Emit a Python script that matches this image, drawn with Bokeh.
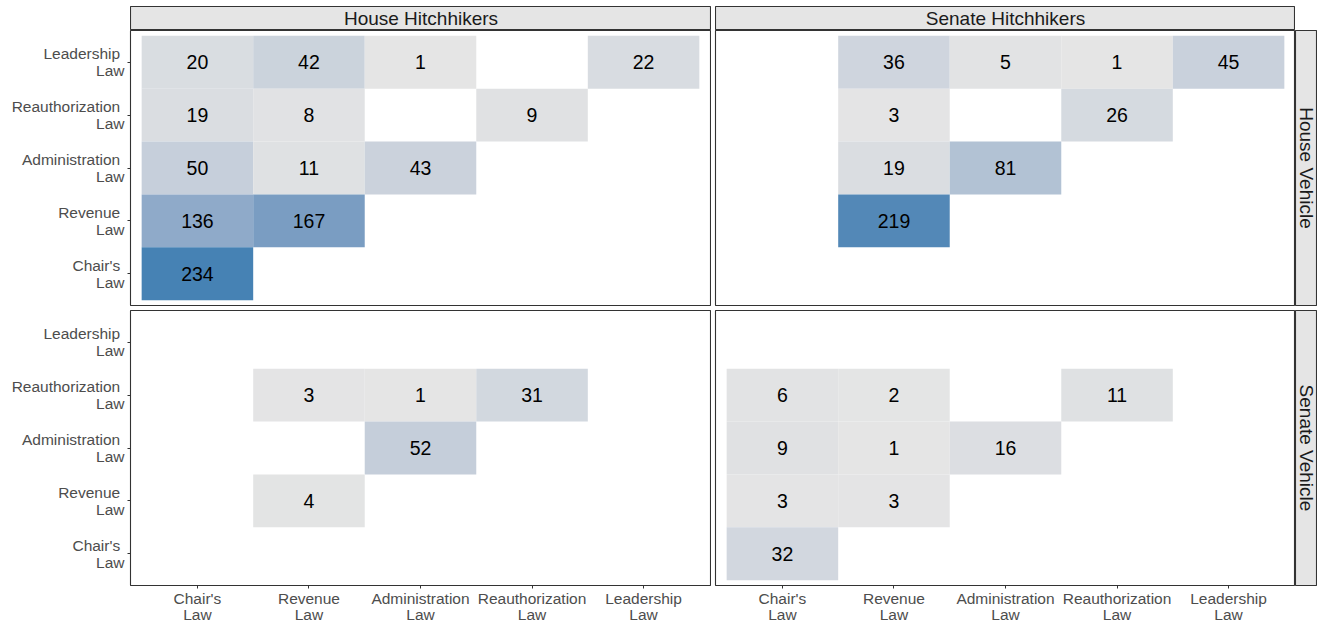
import math
import numpy as np
from bokeh.plotting import figure
from bokeh.layouts import row, column
from bokeh.models import (FactorRange, Range1d, Label, Spacer,
                          ColumnDataSource, CategoricalAxis)
from bokeh.core.properties import value
from bokeh.embed import file_html
from bokeh.resources import INLINE

# ---- categories -----------------------------------------------------------
laws = ["Chair's", "Revenue", "Administration", "Reauthorization", "Leadership"]
hitch_chambers = ["House Hitchhikers", "Senate Hitchhikers"]
vehicle_chambers = ["House Vehicle", "Senate Vehicle"]

# two-line tick labels; the row names get no-break spaces so that the
# centred second line ends flush with the first one
NB = "\u00a0"
col_labels = {k: f"{k}\nLaw" for k in laws}
row_pad = {"Chair's": 5, "Revenue": 9, "Administration": 17,
           "Reauthorization": 20, "Leadership": 12}
row_labels = {k: f"{k} \n{NB * row_pad[k]}Law" for k in laws}

# ---- counts per panel (hitchhiker law on x, vehicle law on y) -------------
hh_house_hitch = ["Chair's", "Revenue", "Administration", "Leadership",
                  "Chair's", "Revenue", "Reauthorization",
                  "Chair's", "Revenue", "Administration",
                  "Chair's", "Revenue",
                  "Chair's"]
hh_house_vehicle = ["Leadership"] * 4 + ["Reauthorization"] * 3 + \
                   ["Administration"] * 3 + ["Revenue"] * 2 + ["Chair's"]
hh_house_n = [20, 42, 1, 22, 19, 8, 9, 50, 11, 43, 136, 167, 234]

hs_senate_hitch = ["Revenue", "Administration", "Reauthorization", "Leadership",
                   "Revenue", "Reauthorization",
                   "Revenue", "Administration",
                   "Revenue"]
hs_house_vehicle = ["Leadership"] * 4 + ["Reauthorization"] * 2 + \
                   ["Administration"] * 2 + ["Revenue"]
hs_n = [36, 5, 1, 45, 3, 26, 19, 81, 219]

sh_house_hitch = ["Revenue", "Administration", "Reauthorization",
                  "Administration",
                  "Revenue"]
sh_senate_vehicle = ["Reauthorization"] * 3 + ["Administration"] + ["Revenue"]
sh_n = [3, 1, 31, 52, 4]

ss_senate_hitch = ["Chair's", "Revenue", "Reauthorization",
                   "Chair's", "Revenue", "Administration",
                   "Chair's", "Revenue",
                   "Chair's"]
ss_senate_vehicle = ["Reauthorization"] * 3 + ["Administration"] * 3 + \
                    ["Revenue"] * 2 + ["Chair's"]
ss_n = [6, 2, 11, 9, 1, 16, 3, 3, 32]

# ---- colour scale: grey90 -> steelblue, interpolated in CIE Lab ----------
LOW, HIGH = "#E5E5E5", "#4682B4"
WHITE = np.array([0.95047, 1.0, 1.08883])
M = np.array([[0.4124564, 0.3575761, 0.1804375],
              [0.2126729, 0.7151522, 0.0721750],
              [0.0193339, 0.1191920, 0.9503041]])


def hex_to_lab(h):
    c = np.array([int(h[i:i + 2], 16) for i in (1, 3, 5)]) / 255.0
    lin = np.where(c <= 0.04045, c / 12.92, ((c + 0.055) / 1.055) ** 2.4)
    xyz = M @ lin / WHITE
    f = np.where(xyz > (6 / 29) ** 3, np.cbrt(xyz), xyz / (3 * (6 / 29) ** 2) + 4 / 29)
    return np.array([116 * f[1] - 16, 500 * (f[0] - f[1]), 200 * (f[1] - f[2])])


def lab_to_hex(lab):
    fy = (lab[0] + 16) / 116
    fx = fy + lab[1] / 500
    fz = fy - lab[2] / 200
    f = np.array([fx, fy, fz])
    xyz = np.where(f > 6 / 29, f ** 3, 3 * (6 / 29) ** 2 * (f - 4 / 29)) * WHITE
    lin = np.linalg.solve(M, xyz)
    c = np.where(lin <= 0.0031308, 12.92 * lin, 1.055 * np.clip(lin, 0, None) ** (1 / 2.4) - 0.055)
    c = np.clip(np.round(c * 255), 0, 255).astype(int)
    return "#%02x%02x%02x" % tuple(c)


all_n = hh_house_n + hs_n + sh_n + ss_n
vmin, vmax = min(all_n), max(all_n)
lab_lo, lab_hi = hex_to_lab(LOW), hex_to_lab(HIGH)


def fill_for(n):
    t = (n - vmin) / (vmax - vmin)
    return lab_to_hex(lab_lo + t * (lab_hi - lab_lo))


# ---- styling ---------------------------------------------------------------
FONT = "Liberation Sans"
BORDER = "#333333"
TICK_TEXT = "#4D4D4D"
FRAME_W, FRAME_H = 580, 275
LEFT_W, GAP, STRIP_R = 130, 3, 22
BOTTOM = 38


def style_axis(ax, standoff):
    ax.axis_line_color = None
    ax.major_tick_line_color = BORDER
    ax.major_tick_out = 3
    ax.major_tick_in = 0
    ax.minor_tick_line_color = None
    ax.major_label_text_font = FONT
    ax.major_label_text_font_size = "15.5px"
    ax.major_label_text_color = TICK_TEXT
    ax.major_label_text_line_height = 0.97
    ax.major_label_standoff = standoff


def panel(xs, ys, ns, left_axis, bottom_axis, border):
    xf = [col_labels[k] for k in laws]
    yf = [row_labels[k] for k in laws]
    p = figure(x_range=FactorRange(*xf, range_padding=0.1, range_padding_units="absolute"),
               y_range=FactorRange(*yf, range_padding=0.1, range_padding_units="absolute"),
               frame_width=FRAME_W, frame_height=FRAME_H,
               x_axis_location=None, y_axis_location=None,
               output_backend="svg", toolbar_location=None, title=None,
               min_border_left=border[0], min_border_right=border[1],
               min_border_top=border[2], min_border_bottom=border[3])
    p.outline_line_color = BORDER
    p.outline_line_width = 1.1
    p.background_fill_color = "white"
    p.border_fill_color = "white"
    p.grid.visible = False
    src = ColumnDataSource(dict(x=[col_labels[k] for k in xs],
                                y=[row_labels[k] for k in ys],
                                n=ns, label=[str(v) for v in ns],
                                fill=[fill_for(v) for v in ns]))
    p.rect(x="x", y="y", width=1, height=1, source=src, fill_color="fill",
           line_color=None)
    p.text(x="x", y="y", text="label", source=src, text_align="center",
           text_baseline="middle", text_font=value(FONT), text_font_size="19.5px",
           text_color="black")
    if left_axis:
        ax = CategoricalAxis()
        style_axis(ax, 3)
        p.add_layout(ax, "left")
    if bottom_axis:
        ax = CategoricalAxis()
        style_axis(ax, 1)
        p.add_layout(ax, "below")
    return p


def strip(text, w, h, top=0, bottom=0, vertical=False):
    s = figure(x_range=Range1d(0, 1), y_range=Range1d(0, 1),
               frame_width=w, frame_height=h, x_axis_location=None,
               y_axis_location=None, output_backend="svg",
               toolbar_location=None, title=None,
               min_border_left=0, min_border_right=0,
               min_border_top=top, min_border_bottom=bottom)
    s.background_fill_color = "#E5E5E5"
    s.border_fill_color = "white"
    s.outline_line_color = BORDER
    s.outline_line_width = 1.1
    s.grid.visible = False
    s.add_layout(Label(x=0.5, y=0.5, text=text, text_align="center",
                       text_baseline="middle", text_font=FONT,
                       text_font_size="19px", text_color="#1A1A1A",
                       angle=-math.pi / 2 if vertical else 0))
    return s


tl = panel(hh_house_hitch, hh_house_vehicle, hh_house_n, True, False, (LEFT_W, 1, 0, 1))
tr = panel(hs_senate_hitch, hs_house_vehicle, hs_n, False, False, (1, 0, 0, 1))
bl = panel(sh_house_hitch, sh_senate_vehicle, sh_n, True, True, (LEFT_W, 1, 1, BOTTOM))
br = panel(ss_senate_hitch, ss_senate_vehicle, ss_n, False, True, (1, 0, 1, BOTTOM))

top_row = row(Spacer(width=LEFT_W, height=30),
              strip(hitch_chambers[0], FRAME_W + 1, 24, top=6),
              Spacer(width=GAP + 1, height=30),
              strip(hitch_chambers[1], FRAME_W, 24, top=6),
              Spacer(width=STRIP_R, height=30))
mid_row = row(tl, Spacer(width=GAP, height=FRAME_H + 1), tr,
              strip(vehicle_chambers[0], STRIP_R, FRAME_H, top=0, bottom=1, vertical=True))
bot_row = row(bl, Spacer(width=GAP, height=FRAME_H + 1 + BOTTOM), br,
              strip(vehicle_chambers[1], STRIP_R, FRAME_H, top=1, bottom=BOTTOM, vertical=True))

layout = column(top_row, mid_row, Spacer(width=1317, height=GAP), bot_row)

open("out.html", "w").write(file_html(layout, INLINE))
